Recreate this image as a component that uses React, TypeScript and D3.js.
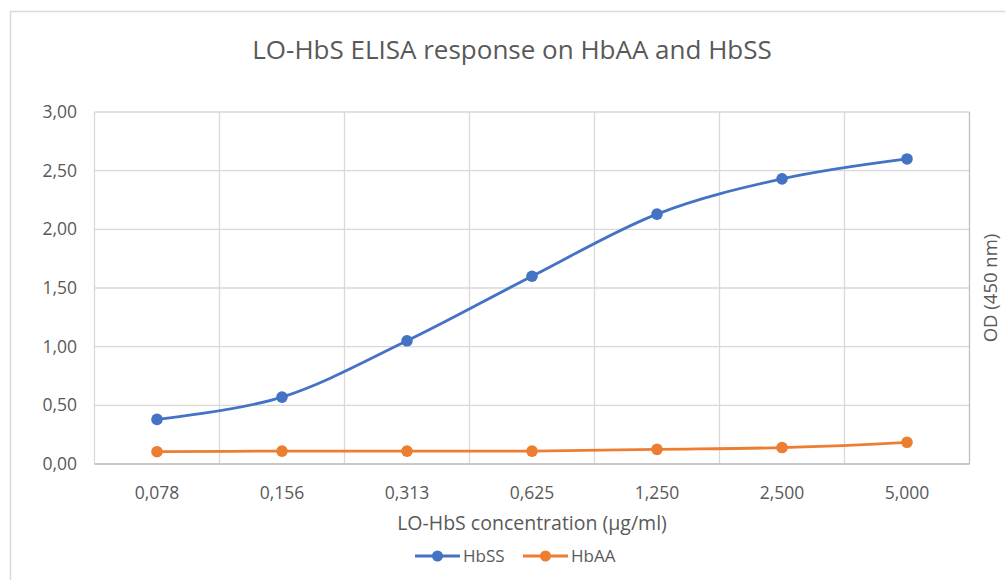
import React from "react";
import * as d3 from "d3";

const categories = ["0,078", "0,156", "0,313", "0,625", "1,250", "2,500", "5,000"];
const hbss = [0.38, 0.57, 1.05, 1.6, 2.13, 2.43, 2.6];
const hbaa = [0.105, 0.11, 0.11, 0.11, 0.125, 0.14, 0.185];
const yTicks = [0, 0.5, 1, 1.5, 2, 2.5, 3];

const series = [
  { name: "HbSS", values: hbss, color: "#4472C4" },
  { name: "HbAA", values: hbaa, color: "#ED7D31" },
];

const W = 1005;
const H = 580;
const plot = { left: 94.5, right: 969.5, top: 112, bottom: 464 };
const textColor = "#595959";
const font = "'Open Sans', sans-serif";

export default function App() {
  const x = d3.scaleBand().domain(categories).range([plot.left, plot.right]).padding(0);
  const y = d3.scaleLinear().domain([0, 3]).range([plot.bottom, plot.top]);
  const cx = (c: string) => (x(c) as number) + x.bandwidth() / 2;

  // Excel-style smoothed line
  const line = d3
    .line<number>()
    .x((_, i) => cx(categories[i]))
    .y((d) => y(d))
    .curve(d3.curveCardinal.tension(0));

  const fmt = (v: number) => v.toFixed(2).replace(".", ",");

  return (
    <div style={{ position: "fixed", left: 0, top: 0 }}>
      <svg width={W} height={H} style={{ display: "block", background: "#fff" }} fontFamily={font}>
        <rect x={10.5} y={11.5} width={1100} height={700} fill="#fff" stroke="#d9d9d9" strokeWidth={1.5} />

        <text x={512} y={59} textAnchor="middle" fontSize={26} fill={textColor}>
          LO-HbS ELISA response on HbAA and HbSS
        </text>

        {/* horizontal gridlines */}
        {yTicks.map((t) => (
          <line key={t} x1={plot.left} x2={plot.right} y1={y(t)} y2={y(t)} stroke="#d9d9d9" strokeWidth={1.3} />
        ))}
        {/* vertical gridlines at category edges */}
        {categories.map((c) => (
          <line key={c} x1={x(c)} x2={x(c)} y1={plot.top} y2={plot.bottom} stroke="#d9d9d9" strokeWidth={1.3} />
        ))}
        <line x1={plot.right} x2={plot.right} y1={plot.top} y2={plot.bottom} stroke="#bfbfbf" strokeWidth={1.3} />
        <line x1={plot.left} x2={plot.right} y1={plot.bottom} y2={plot.bottom} stroke="#bfbfbf" strokeWidth={1.3} />

        {/* y tick labels */}
        {yTicks.map((t) => (
          <text key={t} x={77} y={y(t) + 6} textAnchor="end" fontSize={17.5} fill={textColor}>
            {fmt(t)}
          </text>
        ))}
        {/* x tick labels */}
        {categories.map((c) => (
          <text key={c} x={cx(c)} y={499} textAnchor="middle" fontSize={17.5} fill={textColor}>
            {c}
          </text>
        ))}

        <text x={(plot.left + plot.right) / 2} y={530} textAnchor="middle" fontSize={19.5} fill={textColor}>
          LO-HbS concentration (µg/ml)
        </text>
        <text
          transform={`translate(997,${(plot.top + plot.bottom) / 2}) rotate(-90)`}
          textAnchor="middle"
          fontSize={18.5}
          fill={textColor}
        >
          OD (450 nm)
        </text>

        {series.map((s) => (
          <g key={s.name}>
            <path d={line(s.values) || ""} fill="none" stroke={s.color} strokeWidth={2.8} strokeLinecap="round" />
            {s.values.map((v, i) => (
              <circle key={i} cx={cx(categories[i])} cy={y(v)} r={5.8} fill={s.color} />
            ))}
          </g>
        ))}

        {/* legend */}
        {series.map((s, i) => {
          const lx = 415 + i * 108;
          return (
            <g key={s.name}>
              <line x1={lx} x2={lx + 45} y1={556} y2={556} stroke={s.color} strokeWidth={2.8} />
              <circle cx={lx + 22.5} cy={556} r={5.5} fill={s.color} />
              <text x={lx + 48} y={562} fontSize={17} fill={textColor}>
                {s.name}
              </text>
            </g>
          );
        })}
      </svg>
    </div>
  );
}
